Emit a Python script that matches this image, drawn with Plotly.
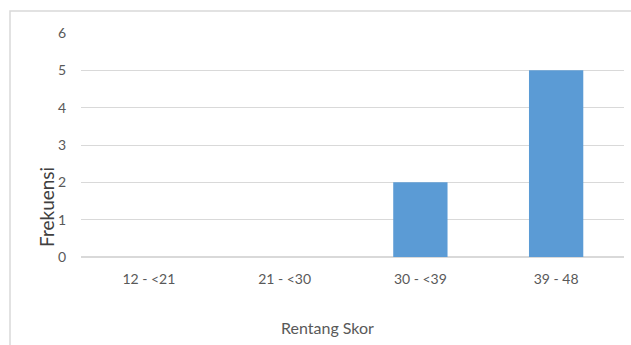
import plotly.graph_objects as go

# Score ranges and the number of respondents in each
categories = ["12 - <21", "21 - <30", "30 - <39", "39 - 48"]
frequencies = [0, 0, 2, 5]
y_ticks = [0, 1, 2, 3, 4, 5, 6]

W, H = 631, 345
L, R, T, B = 81, 7, 33, 88
pw, ph = W - L - R, H - T - B


def px_x(x):
    return (x - L) / pw


def px_y(y):
    return (H - B - y) / ph


fig = go.Figure(
    go.Bar(
        x=categories,
        y=frequencies,
        marker=dict(color="#5b9bd5", line=dict(width=0)),
        width=0.4,
        hoverinfo="x+y",
    )
)

tick_font = dict(family="Lato, Calibri, sans-serif", size=14, color="#595959")

fig.update_layout(
    width=W,
    height=H,
    margin=dict(l=L, r=R, t=T, b=B),
    paper_bgcolor="white",
    plot_bgcolor="white",
    showlegend=False,
    bargap=0.6,
    xaxis=dict(
        showgrid=False,
        showline=False,
        zeroline=False,
        ticks="",
        tickfont=tick_font,
        ticklabelstandoff=12,
    ),
    yaxis=dict(
        range=[0, 6],
        tickvals=y_ticks,
        showgrid=True,
        gridcolor="#d9d9d9",
        gridwidth=1,
        zeroline=True,
        zerolinecolor="#d9d9d9",
        zerolinewidth=1.5,
        showline=False,
        ticks="",
        tickfont=tick_font,
        ticklabelstandoff=14,
    ),
    shapes=[
        dict(
            type="rect",
            xref="paper",
            yref="paper",
            x0=px_x(10),
            x1=px_x(W + 10),
            y0=px_y(H + 10),
            y1=px_y(11),
            line=dict(color="#d9d9d9", width=1.5),
            fillcolor="rgba(0,0,0,0)",
            layer="below",
        )
    ],
    annotations=[
        dict(
            text="Frekuensi",
            xref="paper",
            yref="paper",
            x=px_x(46),
            y=px_y(207),
            textangle=-90,
            showarrow=False,
            font=dict(family="Lato, Calibri, sans-serif", size=19, color="#404040"),
            xanchor="center",
            yanchor="middle",
        ),
        dict(
            text="Rentang Skor",
            xref="paper",
            yref="paper",
            x=px_x(327),
            y=px_y(327),
            showarrow=False,
            font=dict(family="Lato, Calibri, sans-serif", size=16, color="#595959"),
            xanchor="center",
            yanchor="middle",
        ),
    ],
)

fig.write_html("out.html")
